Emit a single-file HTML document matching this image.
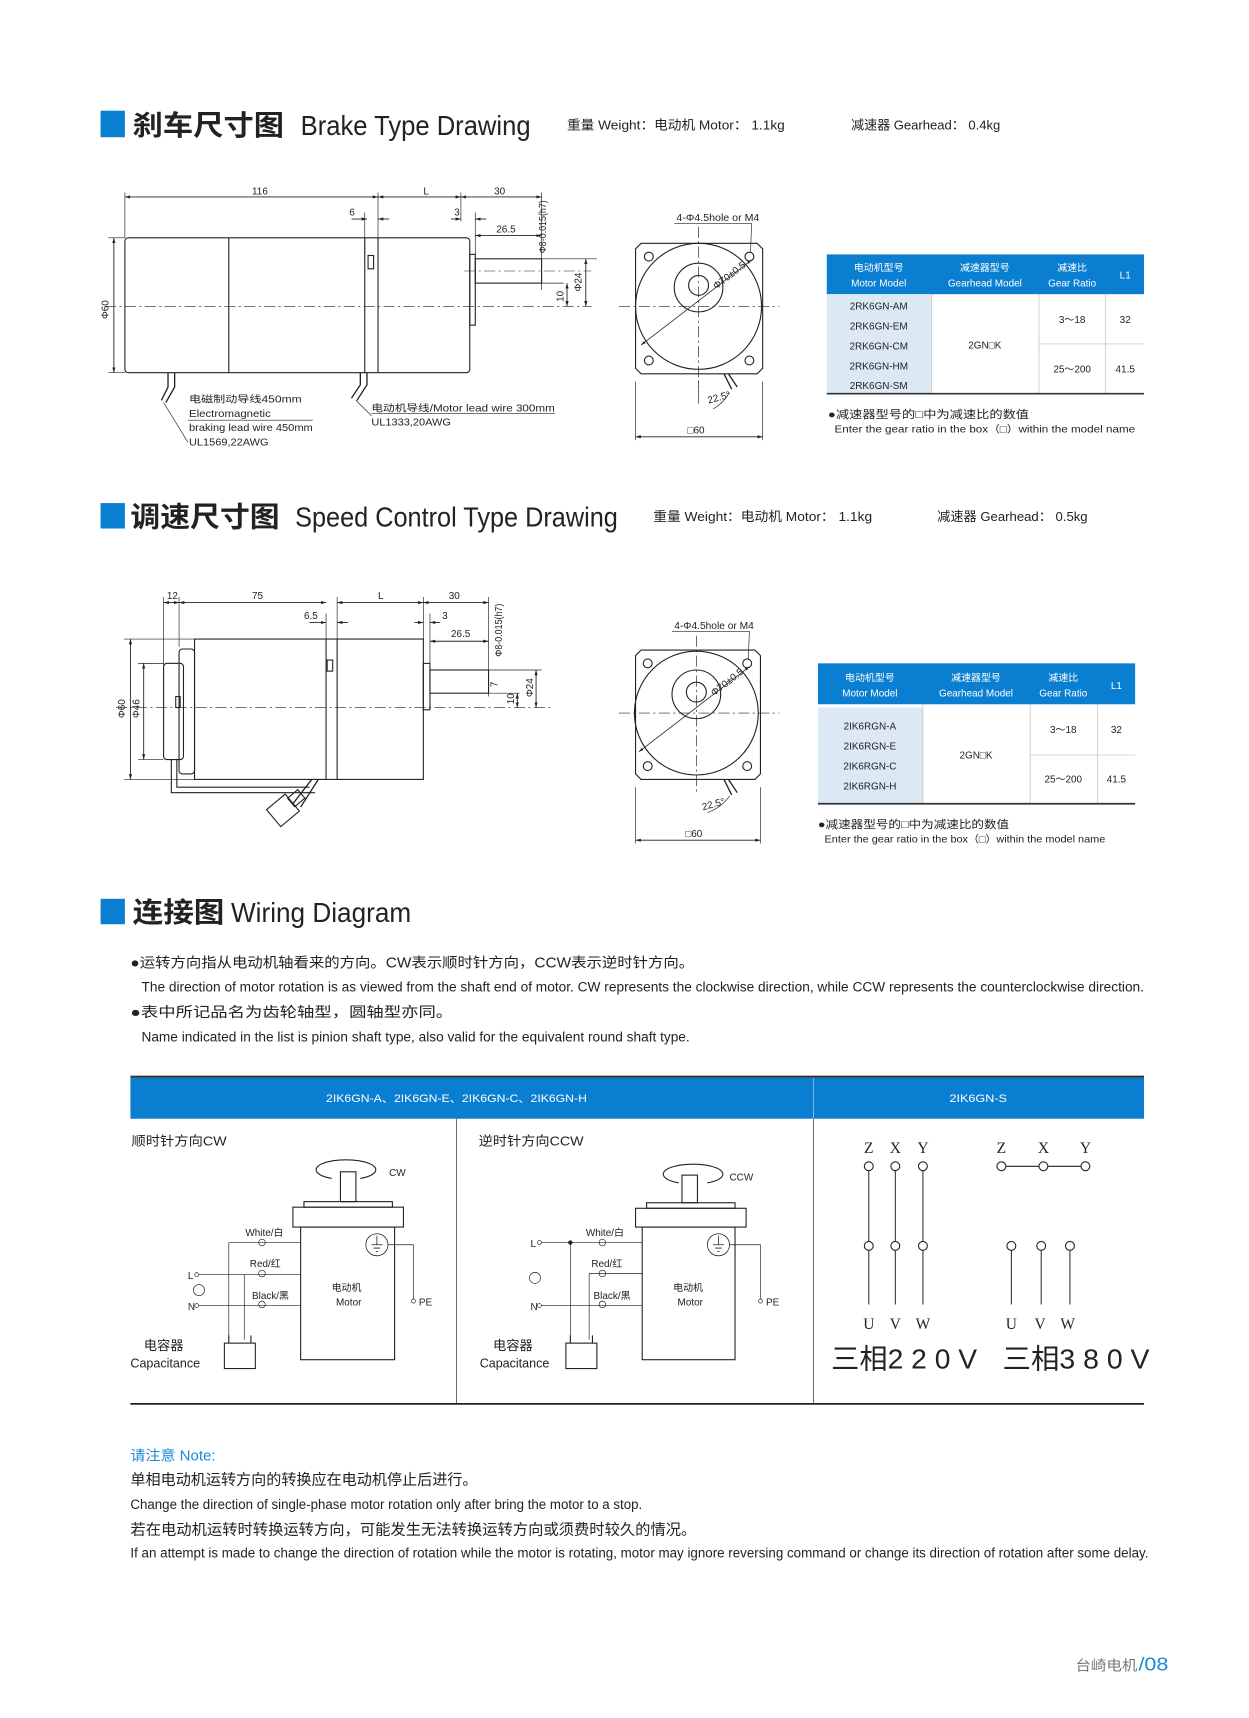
<!DOCTYPE html>
<html><head><meta charset="utf-8"><style>
html,body{margin:0;padding:0;background:#fff;}
svg{display:block;}
text{font-family:"Liberation Sans Narrow","Liberation Sans","Noto Sans CJK SC",sans-serif;fill:#222;}
.t{font-size:9px;}
.s{font-size:10px;}
.m{font-size:12px;}
</style></head><body>
<svg width="1249" height="1718" viewBox="0 0 1130 1554" xmlns="http://www.w3.org/2000/svg">
<defs>
<marker id="a" viewBox="0 0 10 10" refX="10" refY="5" markerWidth="6" markerHeight="6" orient="auto-start-reverse"><path d="M0,2 L10,5 L0,8z" fill="#222"/></marker>
</defs>
<g stroke="#222" fill="none" stroke-width="1">
<rect x="91" y="100" width="22" height="24" fill="#0a7fd1" stroke="none"/>
<line x1="113" y1="178" x2="342" y2="178" marker-start="url(#a)" marker-end="url(#a)" stroke-width=".8"/>
<line x1="342" y1="178" x2="417" y2="178" marker-start="url(#a)" marker-end="url(#a)" stroke-width=".8"/>
<line x1="417" y1="178" x2="490" y2="178" marker-start="url(#a)" marker-end="url(#a)" stroke-width=".8"/>
<line x1="113" y1="174" x2="113" y2="215" stroke-width=".6"/>
<line x1="342" y1="174" x2="342" y2="215" stroke-width=".6"/>
<line x1="417" y1="174" x2="417" y2="200" stroke-width=".6"/>
<line x1="490" y1="174" x2="490" y2="262" stroke-width=".6"/>
<line x1="318" y1="198" x2="332" y2="198" marker-end="url(#a)" stroke-width=".8"/>
<line x1="352" y1="198" x2="342" y2="198" marker-end="url(#a)" stroke-width=".8"/>
<line x1="330" y1="192" x2="330" y2="230" stroke-width=".6"/>
<line x1="408" y1="198" x2="417" y2="198" marker-end="url(#a)" stroke-width=".8"/>
<line x1="440" y1="198" x2="430" y2="198" marker-end="url(#a)" stroke-width=".8"/>
<line x1="430" y1="192" x2="430" y2="235" stroke-width=".6"/>
<line x1="430" y1="213" x2="490" y2="213" marker-start="url(#a)" marker-end="url(#a)" stroke-width=".8"/>
<rect x="113" y="215" width="312" height="122" rx="3"/>
<line x1="207" y1="215" x2="207" y2="337"/>
<line x1="330" y1="215" x2="330" y2="337"/>
<line x1="342" y1="215" x2="342" y2="337"/>
<rect x="333" y="231" width="5" height="12"/>
<rect x="425" y="230" width="5" height="64"/>
<rect x="430" y="234" width="60" height="22"/>
<line x1="95" y1="277" x2="535" y2="277" stroke-dasharray="10 3 2 3" stroke-width=".6"/>
<line x1="420" y1="245" x2="535" y2="245" stroke-dasharray="10 3 2 3" stroke-width=".5"/>
<line x1="103" y1="215" x2="103" y2="337" marker-start="url(#a)" marker-end="url(#a)" stroke-width=".8"/>
<line x1="98" y1="215" x2="113" y2="215" stroke-width=".6"/>
<line x1="98" y1="337" x2="113" y2="337" stroke-width=".6"/>
<line x1="490" y1="234" x2="540" y2="234" stroke-width=".6"/>
<line x1="490" y1="256" x2="510" y2="256" stroke-width=".6"/>
<line x1="530" y1="234" x2="530" y2="277" marker-start="url(#a)" marker-end="url(#a)" stroke-width=".8"/>
<line x1="513" y1="256" x2="513" y2="277" marker-start="url(#a)" marker-end="url(#a)" stroke-width=".8"/>
<path d="M152 337 L152 350 L146 362 M158 337 L158 350 L150 364" stroke-width="1.2"/>
<path d="M326 337 L326 348 L318 360 M332 337 L332 348 L323 362" stroke-width="1.2"/>
<path d="M148 364 L170 400" stroke-width=".6"/>
<line x1="170" y1="380" x2="283" y2="380" stroke-width=".6"/>
<path d="M322 362 L336 376" stroke-width=".6"/>
<line x1="336" y1="374" x2="502" y2="374" stroke-width=".6"/>
<path d="M580 220 L685 220 L690 225 L690 333 L685 338 L580 338 L575 333 L575 225 Z"/>
<circle cx="632" cy="277" r="57"/>
<circle cx="632" cy="260" r="22"/>
<circle cx="632" cy="258" r="9"/>
<circle cx="587" cy="232" r="4"/><circle cx="678" cy="232" r="4"/>
<circle cx="587" cy="326" r="4"/><circle cx="678" cy="326" r="4"/>
<line x1="560" y1="277" x2="705" y2="277" stroke-dasharray="10 3 2 3" stroke-width=".6"/>
<line x1="632" y1="205" x2="632" y2="350" stroke-dasharray="10 3 2 3" stroke-width=".6"/>
<line x1="580" y1="312" x2="680" y2="235" marker-start="url(#a)" marker-end="url(#a)" stroke-width=".7"/>
<line x1="610" y1="202" x2="680" y2="202" stroke-width=".6"/>
<line x1="680" y1="202" x2="679" y2="228" stroke-width=".6"/>
<path d="M655 338 L662 352 M659 338 L667 350" stroke-width="1.2"/>
<line x1="632" y1="345" x2="632" y2="365" stroke-width=".6"/>
<path d="M645 370 A 40 40 0 0 0 660 355" stroke-width=".6"/>
<line x1="575" y1="345" x2="575" y2="398" stroke-width=".6"/>
<line x1="690" y1="345" x2="690" y2="398" stroke-width=".6"/>
<line x1="575" y1="395" x2="690" y2="395" marker-start="url(#a)" marker-end="url(#a)" stroke-width=".8"/>
</g>

<rect x="748" y="230" width="287" height="36" fill="#0a7fd1"/>
<rect x="748" y="266" width="95" height="90" fill="#dce9f5"/>
<g stroke="#bbb" stroke-width=".6">
<line x1="843" y1="266" x2="843" y2="356"/><line x1="940" y1="266" x2="940" y2="356"/><line x1="1000" y1="266" x2="1000" y2="356"/>
<line x1="940" y1="311" x2="1035" y2="311"/>
</g>
<line x1="748" y1="356" x2="1035" y2="356" stroke="#333" stroke-width="1.5"/>
<g class="t" text-anchor="middle">
<text x="795" y="245" style="fill:#fff">电动机型号</text><text x="795" y="259" style="fill:#fff">Motor Model</text>
<text x="891" y="245" style="fill:#fff">减速器型号</text><text x="891" y="259" style="fill:#fff">Gearhead Model</text>
<text x="970" y="245" style="fill:#fff">减速比</text><text x="970" y="259" style="fill:#fff">Gear Ratio</text>
<text x="1018" y="252" style="fill:#fff">L1</text>
<text x="795" y="280">2RK6GN-AM</text><text x="795" y="298">2RK6GN-EM</text><text x="795" y="316">2RK6GN-CM</text><text x="795" y="334">2RK6GN-HM</text><text x="795" y="352">2RK6GN-SM</text>
<text x="891" y="315">2GN□K</text>
<text x="970" y="292">3～18</text><text x="1018" y="292">32</text>
<text x="970" y="337">25～200</text><text x="1018" y="337">41.5</text>
</g>
<text x="749" y="378" class="s" textLength="182" lengthAdjust="spacingAndGlyphs">●减速器型号的□中为减速比的数值</text>
<text x="755" y="391" class="t" textLength="272" lengthAdjust="spacingAndGlyphs">Enter the gear ratio in the box（□）within the model name</text>

<text x="120" y="122" style="font-size:25px;font-weight:bold" textLength="137" lengthAdjust="spacingAndGlyphs">刹车尺寸图</text>
<text x="272" y="122" style="font-size:25px" textLength="208" lengthAdjust="spacingAndGlyphs">Brake Type Drawing</text>
<text x="513" y="117" class="m" textLength="197" lengthAdjust="spacingAndGlyphs">重量 Weight：电动机 Motor： 1.1kg</text>
<text x="770" y="117" class="m" textLength="135" lengthAdjust="spacingAndGlyphs">减速器 Gearhead： 0.4kg</text>
<g class="t">
<text x="228" y="176">116</text><text x="383" y="176">L</text><text x="447" y="176">30</text>
<text x="316" y="195">6</text><text x="411" y="195">3</text><text x="449" y="210">26.5</text>
<text x="98" y="280" transform="rotate(-90 98 280)" text-anchor="middle">Φ60</text>
<text x="494" y="205" transform="rotate(-90 494 205)" text-anchor="middle" textLength="48" lengthAdjust="spacingAndGlyphs">Φ8-0.015(h7)</text>
<text x="526" y="255" transform="rotate(-90 526 255)" text-anchor="middle">Φ24</text>
<text x="510" y="268" transform="rotate(-90 510 268)" text-anchor="middle">10</text>
<text x="171" y="364" textLength="102" lengthAdjust="spacingAndGlyphs">电磁制动导线450mm</text><text x="171" y="377" textLength="74" lengthAdjust="spacingAndGlyphs">Electromagnetic</text>
<text x="171" y="390" textLength="112" lengthAdjust="spacingAndGlyphs">braking lead wire 450mm</text><text x="171" y="403" textLength="72" lengthAdjust="spacingAndGlyphs">UL1569,22AWG</text>
<text x="336" y="372" textLength="166" lengthAdjust="spacingAndGlyphs">电动机导线/Motor lead wire 300mm</text><text x="336" y="385" textLength="72" lengthAdjust="spacingAndGlyphs">UL1333,20AWG</text>
<text x="612" y="200" textLength="75" lengthAdjust="spacingAndGlyphs">4-Φ4.5hole or M4</text>
<text x="648" y="262" transform="rotate(-38 648 262)">Φ70±0.5</text>
<text x="641" y="365" transform="rotate(-15 641 365)">22.5°</text>
<text x="622" y="392">□60</text>
</g>

<rect x="91" y="455" width="22" height="23" fill="#0a7fd1"/>
<text x="118" y="476" style="font-size:25px;font-weight:bold" textLength="135" lengthAdjust="spacingAndGlyphs">调速尺寸图</text>
<text x="267" y="476" style="font-size:25px" textLength="292" lengthAdjust="spacingAndGlyphs">Speed Control Type Drawing</text>
<text x="591" y="471" class="m" textLength="198" lengthAdjust="spacingAndGlyphs">重量 Weight：电动机 Motor： 1.1kg</text>
<text x="848" y="471" class="m" textLength="136" lengthAdjust="spacingAndGlyphs">减速器 Gearhead： 0.5kg</text>

<g stroke="#222" fill="none" stroke-width="1">
<line x1="148" y1="545" x2="162" y2="545" marker-start="url(#a)" marker-end="url(#a)" stroke-width=".8"/>
<line x1="162" y1="545" x2="295" y2="545" marker-start="url(#a)" marker-end="url(#a)" stroke-width=".8"/>
<line x1="305" y1="545" x2="383" y2="545" marker-start="url(#a)" marker-end="url(#a)" stroke-width=".8"/>
<line x1="383" y1="545" x2="442" y2="545" marker-start="url(#a)" marker-end="url(#a)" stroke-width=".8"/>
<line x1="148" y1="540" x2="148" y2="605" stroke-width=".6"/>
<line x1="162" y1="540" x2="162" y2="585" stroke-width=".6"/>
<line x1="305" y1="540" x2="305" y2="580" stroke-width=".6"/>
<line x1="383" y1="540" x2="383" y2="580" stroke-width=".6"/>
<line x1="442" y1="540" x2="442" y2="630" stroke-width=".6"/>
<line x1="280" y1="563" x2="295" y2="563" marker-end="url(#a)" stroke-width=".8"/>
<line x1="315" y1="563" x2="305" y2="563" marker-end="url(#a)" stroke-width=".8"/>
<line x1="295" y1="555" x2="295" y2="580" stroke-width=".6"/>
<line x1="375" y1="563" x2="383" y2="563" marker-end="url(#a)" stroke-width=".8"/>
<line x1="398" y1="563" x2="389" y2="563" marker-end="url(#a)" stroke-width=".8"/>
<line x1="389" y1="555" x2="389" y2="605" stroke-width=".6"/>
<line x1="389" y1="580" x2="442" y2="580" marker-start="url(#a)" marker-end="url(#a)" stroke-width=".8"/>
<rect x="148" y="600" width="18" height="87" rx="3"/>
<rect x="162" y="587" width="14" height="113" rx="3"/>
<rect x="176" y="578" width="207" height="127"/>
<line x1="295" y1="578" x2="295" y2="705"/>
<line x1="305" y1="578" x2="305" y2="705"/>
<rect x="296" y="597" width="5" height="10"/>
<rect x="383" y="600" width="6" height="42"/>
<rect x="389" y="606" width="53" height="21"/>
<rect x="159" y="630" width="4" height="10"/>
<line x1="105" y1="640" x2="500" y2="640" stroke-dasharray="10 3 2 3" stroke-width=".6"/>
<line x1="118" y1="578" x2="118" y2="705" marker-start="url(#a)" marker-end="url(#a)" stroke-width=".8"/>
<line x1="130" y1="600" x2="130" y2="687" marker-start="url(#a)" marker-end="url(#a)" stroke-width=".8"/>
<line x1="112" y1="578" x2="176" y2="578" stroke-width=".6"/>
<line x1="112" y1="705" x2="176" y2="705" stroke-width=".6"/>
<line x1="125" y1="600" x2="148" y2="600" stroke-width=".6"/>
<line x1="125" y1="687" x2="148" y2="687" stroke-width=".6"/>
<line x1="442" y1="606" x2="490" y2="606" stroke-width=".6"/>
<line x1="442" y1="627" x2="470" y2="627" stroke-width=".6"/>
<line x1="485" y1="606" x2="485" y2="640" marker-start="url(#a)" marker-end="url(#a)" stroke-width=".8"/>
<line x1="468" y1="627" x2="468" y2="640" marker-start="url(#a)" marker-end="url(#a)" stroke-width=".8"/>
<path d="M155 687 L155 717 L285 717 M160 687 L160 712 L280 712" stroke-width="1"/>
<path d="M282 705 L265 727 M288 705 L272 730" stroke-width="1.2"/>
<rect x="245" y="723" width="22" height="20" transform="rotate(-40 256 733)"/>
<rect x="262" y="717" width="12" height="10" transform="rotate(-40 268 722)"/>
<path d="M580 588 L683 588 L688 593 L688 700 L683 705 L580 705 L575 700 L575 593 Z"/>
<circle cx="630" cy="645" r="56"/>
<circle cx="630" cy="628" r="22"/>
<circle cx="630" cy="626" r="9"/>
<circle cx="586" cy="600" r="4"/><circle cx="676" cy="600" r="4"/>
<circle cx="586" cy="693" r="4"/><circle cx="676" cy="693" r="4"/>
<line x1="560" y1="645" x2="705" y2="645" stroke-dasharray="10 3 2 3" stroke-width=".6"/>
<line x1="630" y1="575" x2="630" y2="718" stroke-dasharray="10 3 2 3" stroke-width=".6"/>
<line x1="578" y1="680" x2="678" y2="603" marker-start="url(#a)" marker-end="url(#a)" stroke-width=".7"/>
<line x1="608" y1="571" x2="678" y2="571" stroke-width=".6"/>
<line x1="678" y1="571" x2="677" y2="596" stroke-width=".6"/>
<path d="M655 705 L662 719 M659 705 L667 717" stroke-width="1.2"/>
<path d="M640 735 A 40 40 0 0 0 660 720" stroke-width=".6"/>
<line x1="575" y1="712" x2="575" y2="763" stroke-width=".6"/>
<line x1="688" y1="712" x2="688" y2="763" stroke-width=".6"/>
<line x1="575" y1="760" x2="688" y2="760" marker-start="url(#a)" marker-end="url(#a)" stroke-width=".8"/>
</g>
<g class="t">
<text x="151" y="542">12</text><text x="228" y="542">75</text><text x="342" y="542">L</text><text x="406" y="542">30</text>
<text x="275" y="560">6.5</text><text x="400" y="560">3</text><text x="408" y="576">26.5</text>
<text x="113" y="641" transform="rotate(-90 113 641)" text-anchor="middle">Φ60</text>
<text x="126" y="641" transform="rotate(-90 126 641)" text-anchor="middle">Φ46</text>
<text x="454" y="570" transform="rotate(-90 454 570)" text-anchor="middle" textLength="48" lengthAdjust="spacingAndGlyphs">Φ8-0.015(h7)</text>
<text x="482" y="622" transform="rotate(-90 482 622)" text-anchor="middle">Φ24</text>
<text x="465" y="632" transform="rotate(-90 465 632)" text-anchor="middle">10</text>
<text x="450" y="619" transform="rotate(-90 450 619)" text-anchor="middle">7</text>
<text x="610" y="569" textLength="72" lengthAdjust="spacingAndGlyphs">4-Φ4.5hole or M4</text>
<text x="646" y="630" transform="rotate(-38 646 630)">Φ70±0.5</text>
<text x="636" y="733" transform="rotate(-15 636 733)">22.5°</text>
<text x="620" y="757">□60</text>
</g>

<rect x="740" y="600" width="287" height="37" fill="#0a7fd1"/>
<rect x="740" y="640" width="95" height="87" fill="#dce9f5"/>
<g stroke="#bbb" stroke-width=".6">
<line x1="835" y1="637" x2="835" y2="727"/><line x1="932" y1="637" x2="932" y2="727"/><line x1="993" y1="637" x2="993" y2="727"/>
<line x1="932" y1="683" x2="1027" y2="683"/>
</g>
<line x1="740" y1="727" x2="1027" y2="727" stroke="#333" stroke-width="1.5"/>
<g class="t" text-anchor="middle">
<text x="787" y="616" style="fill:#fff">电动机型号</text><text x="787" y="630" style="fill:#fff">Motor Model</text>
<text x="883" y="616" style="fill:#fff">减速器型号</text><text x="883" y="630" style="fill:#fff">Gearhead Model</text>
<text x="962" y="616" style="fill:#fff">减速比</text><text x="962" y="630" style="fill:#fff">Gear Ratio</text>
<text x="1010" y="623" style="fill:#fff">L1</text>
<text x="787" y="660">2IK6RGN-A</text><text x="787" y="678">2IK6RGN-E</text><text x="787" y="696">2IK6RGN-C</text><text x="787" y="714">2IK6RGN-H</text>
<text x="883" y="686">2GN□K</text>
<text x="962" y="663">3～18</text><text x="1010" y="663">32</text>
<text x="962" y="708">25～200</text><text x="1010" y="708">41.5</text>
</g>
<text x="740" y="749" class="s" textLength="173" lengthAdjust="spacingAndGlyphs">●减速器型号的□中为减速比的数值</text>
<text x="746" y="762" class="t" textLength="254" lengthAdjust="spacingAndGlyphs">Enter the gear ratio in the box（□）within the model name</text>

<rect x="91" y="813" width="22" height="23" fill="#0a7fd1"/>
<text x="120" y="834" style="font-size:25px;font-weight:bold" textLength="83" lengthAdjust="spacingAndGlyphs">连接图</text>
<text x="209" y="834" style="font-size:25px" textLength="163" lengthAdjust="spacingAndGlyphs">Wiring Diagram</text>
<text x="118" y="875" style="font-size:13px" textLength="510" lengthAdjust="spacingAndGlyphs">●运转方向指从电动机轴看来的方向。CW表示顺时针方向，CCW表示逆时针方向。</text>
<text x="128" y="897" style="font-size:12.5px" textLength="907" lengthAdjust="spacingAndGlyphs">The direction of motor rotation is as viewed from the shaft end of motor. CW represents the clockwise direction, while CCW represents the counterclockwise direction.</text>
<text x="118" y="920" style="font-size:13px" textLength="292" lengthAdjust="spacingAndGlyphs">●表中所记品名为齿轮轴型，圆轴型亦同。</text>
<text x="128" y="942" style="font-size:12.5px" textLength="496" lengthAdjust="spacingAndGlyphs">Name indicated in the list is pinion shaft type, also valid for the equivalent round shaft type.</text>

<rect x="118" y="973" width="917" height="2" fill="#333"/>
<rect x="118" y="975" width="917" height="37" fill="#0a7fd1"/>
<line x1="736" y1="975" x2="736" y2="1012" stroke="#8cc0ea" stroke-width=".8"/>
<text x="413" y="997" class="s" text-anchor="middle" style="fill:#fff" textLength="236" lengthAdjust="spacingAndGlyphs">2IK6GN-A、2IK6GN-E、2IK6GN-C、2IK6GN-H</text>
<text x="885" y="997" class="s" text-anchor="middle" style="fill:#fff" textLength="52" lengthAdjust="spacingAndGlyphs">2IK6GN-S</text>
<line x1="413" y1="1012" x2="413" y2="1270" stroke="#555" stroke-width=".8"/>
<line x1="736" y1="1012" x2="736" y2="1270" stroke="#555" stroke-width=".8"/>
<line x1="118" y1="1270" x2="1035" y2="1270" stroke="#222" stroke-width="1.6"/>
<text x="119" y="1036" class="m" textLength="86" lengthAdjust="spacingAndGlyphs">顺时针方向CW</text>
<text x="433" y="1036" class="m" textLength="95" lengthAdjust="spacingAndGlyphs">逆时针方向CCW</text>

<g stroke="#222" fill="none" stroke-width="1">
<rect x="272" y="1110" width="85" height="120"/>
<rect x="265" y="1092" width="100" height="18"/>
<rect x="275" y="1087" width="80" height="5"/>
<rect x="308" y="1060" width="14" height="27"/>
<path d="M326 1066 A 27 9 0 1 0 300 1066" />
<circle cx="341" cy="1126" r="10" stroke-width=".7"/>
<path d="M336 1126 H346 M338 1129 H344 M340 1132 H342 M341 1118 V1126" stroke-width=".7"/>
<path d="M351 1126 H374 V1175" stroke-width=".6"/>
<circle cx="374" cy="1177" r="1.8" stroke-width=".6"/>
<circle cx="237" cy="1124" r="3" stroke-width=".6"/><circle cx="237" cy="1152" r="3" stroke-width=".6"/><circle cx="237" cy="1180" r="3" stroke-width=".6"/>
<path d="M207 1124 H272 M180 1153 H272 M180 1181 H272" stroke-width=".6"/>
<path d="M207 1124 V1212 M221 1153 V1212" stroke-width=".6"/>
<rect x="203" y="1215" width="28" height="23"/>
<path d="M207 1215 V1208 M227 1215 V1208" />
<circle cx="178" cy="1153" r="1.8" stroke-width=".6"/><circle cx="178" cy="1181" r="1.8" stroke-width=".6"/>
<circle cx="180" cy="1167" r="5" stroke-width=".6"/>
<rect x="581" y="1110" width="84" height="120"/>
<rect x="575" y="1093" width="100" height="17"/>
<rect x="585" y="1088" width="80" height="5"/>
<rect x="617" y="1063" width="14" height="25"/>
<path d="M614 1070 A 27 9 0 1 1 640 1070"/>
<circle cx="650" cy="1126" r="10" stroke-width=".7"/>
<path d="M645 1126 H655 M647 1129 H653 M649 1132 H651 M650 1118 V1126" stroke-width=".7"/>
<path d="M660 1126 H688 V1175" stroke-width=".6"/>
<circle cx="688" cy="1177" r="1.8" stroke-width=".6"/>
<circle cx="545" cy="1124" r="3" stroke-width=".6"/><circle cx="545" cy="1152" r="3" stroke-width=".6"/><circle cx="545" cy="1180" r="3" stroke-width=".6"/>
<path d="M490 1124 H581 M490 1181 H581 M533 1152 H581" stroke-width=".6"/>
<path d="M516 1124 V1212 M533 1152 V1212" stroke-width=".6"/>
<circle cx="516" cy="1124" r="1.5" fill="#222"/>
<rect x="512" y="1215" width="28" height="23"/>
<path d="M516 1215 V1208 M536 1215 V1208"/>
<circle cx="488" cy="1124" r="1.8" stroke-width=".6"/><circle cx="488" cy="1181" r="1.8" stroke-width=".6"/>
<circle cx="484" cy="1156" r="5" stroke-width=".6"/>
<path d="M786 1059 V1123 M810 1059 V1123 M835 1059 V1123 M786 1131 V1180 M810 1131 V1180 M835 1131 V1180 M915 1131 V1180 M942 1131 V1180 M968 1131 V1180" stroke-width=".9"/>
<circle cx="786" cy="1055" r="4"/><circle cx="810" cy="1055" r="4"/><circle cx="835" cy="1055" r="4"/>
<circle cx="786" cy="1127" r="4"/><circle cx="810" cy="1127" r="4"/><circle cx="835" cy="1127" r="4"/>
<circle cx="906" cy="1055" r="4"/><circle cx="944" cy="1055" r="4"/><circle cx="982" cy="1055" r="4"/>
<path d="M910 1055 H940 M948 1055 H978"/>
<circle cx="915" cy="1127" r="4"/><circle cx="942" cy="1127" r="4"/><circle cx="968" cy="1127" r="4"/>
</g>
<g class="t">
<text x="352" y="1064">CW</text><text x="660" y="1068">CCW</text>
<text x="222" y="1118">White/白</text><text x="226" y="1146">Red/红</text><text x="228" y="1175">Black/黑</text>
<text x="300" y="1168">电动机</text><text x="304" y="1181">Motor</text>
<text x="379" y="1181">PE</text>
<text x="170" y="1157">L</text><text x="170" y="1185">N</text>
<text x="530" y="1118">White/白</text><text x="535" y="1146">Red/红</text><text x="537" y="1175">Black/黑</text>
<text x="609" y="1168">电动机</text><text x="613" y="1181">Motor</text>
<text x="693" y="1181">PE</text>
<text x="480" y="1128">L</text><text x="480" y="1185">N</text>
</g>
<text x="130" y="1221" class="m">电容器</text><text x="118" y="1237" class="m" textLength="63" lengthAdjust="spacingAndGlyphs">Capacitance</text>
<text x="446" y="1221" class="m">电容器</text><text x="434" y="1237" class="m" textLength="63" lengthAdjust="spacingAndGlyphs">Capacitance</text>
<g text-anchor="middle">
<text x="786" y="1043" style="font-family:'Liberation Serif',serif;font-size:14px">Z</text><text x="810" y="1043" style="font-family:'Liberation Serif',serif;font-size:14px">X</text><text x="835" y="1043" style="font-family:'Liberation Serif',serif;font-size:14px">Y</text>
<text x="906" y="1043" style="font-family:'Liberation Serif',serif;font-size:14px">Z</text><text x="944" y="1043" style="font-family:'Liberation Serif',serif;font-size:14px">X</text><text x="982" y="1043" style="font-family:'Liberation Serif',serif;font-size:14px">Y</text>
<text x="786" y="1202" style="font-family:'Liberation Serif',serif;font-size:14px">U</text><text x="810" y="1202" style="font-family:'Liberation Serif',serif;font-size:14px">V</text><text x="835" y="1202" style="font-family:'Liberation Serif',serif;font-size:14px">W</text>
<text x="915" y="1202" style="font-family:'Liberation Serif',serif;font-size:14px">U</text><text x="941" y="1202" style="font-family:'Liberation Serif',serif;font-size:14px">V</text><text x="966" y="1202" style="font-family:'Liberation Serif',serif;font-size:14px">W</text>
</g>
<text x="752" y="1238" style="font-size:25px" textLength="132" lengthAdjust="spacingAndGlyphs">三相2 2 0 V</text>
<text x="907" y="1238" style="font-size:25px" textLength="133" lengthAdjust="spacingAndGlyphs">三相3 8 0 V</text>

<text x="118" y="1321" style="font-size:13px;fill:#1a8ad6" textLength="77" lengthAdjust="spacingAndGlyphs">请注意 Note:</text>
<text x="118" y="1343" style="font-size:13.5px" textLength="314" lengthAdjust="spacingAndGlyphs">单相电动机运转方向的转换应在电动机停止后进行。</text>
<text x="118" y="1365" style="font-size:12.5px" textLength="463" lengthAdjust="spacingAndGlyphs">Change the direction of single-phase motor rotation only after bring the motor to a stop.</text>
<text x="118" y="1388" style="font-size:13.5px" textLength="512" lengthAdjust="spacingAndGlyphs">若在电动机运转时转换运转方向，可能发生无法转换运转方向或须费时较久的情况。</text>
<text x="118" y="1409" style="font-size:12.5px" textLength="921" lengthAdjust="spacingAndGlyphs">If an attempt is made to change the direction of rotation while the motor is rotating, motor may ignore reversing command or change its direction of rotation after some delay.</text>
<text x="973" y="1511" style="font-size:13px;fill:#777" textLength="56" lengthAdjust="spacingAndGlyphs">台崎电机</text>
<text x="1030" y="1511" style="font-size:17px;fill:#1a8ad6" textLength="27" lengthAdjust="spacingAndGlyphs">/08</text>
</svg>
</body></html>
